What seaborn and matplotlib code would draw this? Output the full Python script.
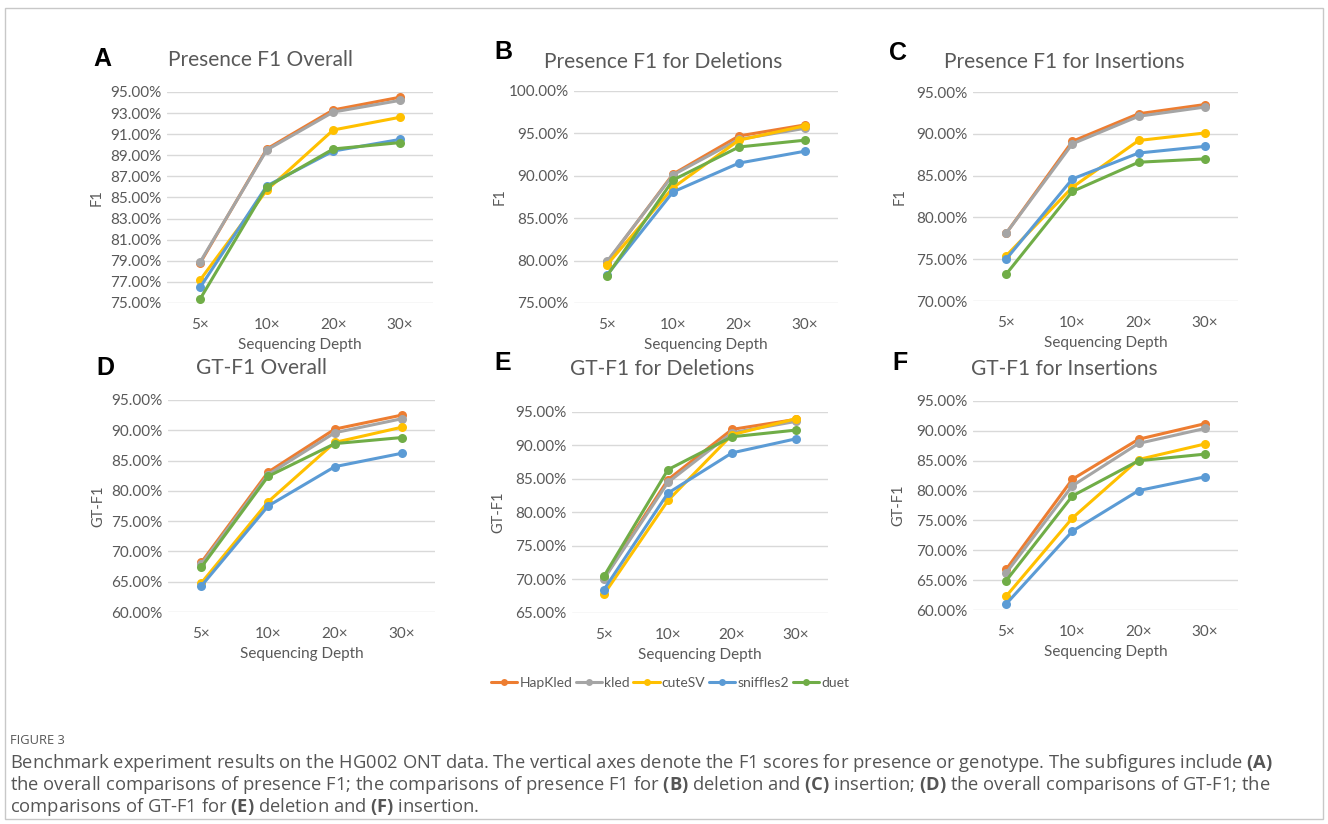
import numpy as np
import pandas as pd
import seaborn as sns
import matplotlib.pyplot as plt
from matplotlib.lines import Line2D
from matplotlib.patches import Rectangle
from matplotlib.ticker import FuncFormatter

# Excel-style benchmark figure, six small line charts + caption

depths = ['5×', '10×', '20×', '30×']
tools = ['HapKled', 'kled', 'cuteSV', 'sniffles2', 'duet']
colors = ['#ED7D31', '#A5A5A5', '#FFC000', '#5B9BD5', '#70AD47']

# A: presence F1 overall
hapkled_a = [78.8, 89.6, 93.3, 94.5]
kled_a = [78.9, 89.5, 93.1, 94.2]
cutesv_a = [77.2, 85.7, 91.4, 92.6]
sniffles2_a = [76.5, 86.1, 89.4, 90.5]
duet_a = [75.4, 86.0, 89.6, 90.2]

# B: presence F1 for deletions
hapkled_b = [79.8, 90.2, 94.7, 96.0]
kled_b = [79.9, 90.1, 94.3, 95.6]
cutesv_b = [79.5, 88.6, 94.2, 95.9]
sniffles2_b = [78.3, 88.1, 91.5, 92.9]
duet_b = [78.2, 89.5, 93.4, 94.2]

# C: presence F1 for insertions
hapkled_c = [78.1, 89.1, 92.4, 93.5]
kled_c = [78.1, 88.8, 92.1, 93.2]
cutesv_c = [75.4, 83.6, 89.2, 90.1]
sniffles2_c = [75.0, 84.6, 87.7, 88.5]
duet_c = [73.2, 83.1, 86.6, 87.0]

# D: GT-F1 overall
hapkled_d = [68.2, 83.1, 90.2, 92.5]
kled_d = [67.9, 82.7, 89.6, 91.9]
cutesv_d = [64.8, 78.2, 88.0, 90.5]
sniffles2_d = [64.3, 77.5, 84.0, 86.2]
duet_d = [67.4, 82.4, 87.8, 88.8]

# E: GT-F1 for deletions
hapkled_e = [70.2, 84.9, 92.4, 93.9]
kled_e = [70.1, 84.5, 91.9, 93.6]
cutesv_e = [67.8, 81.8, 91.6, 94.0]
sniffles2_e = [68.5, 82.9, 88.9, 91.0]
duet_e = [70.5, 86.4, 91.3, 92.3]

# F: GT-F1 for insertions
hapkled_f = [66.8, 81.9, 88.6, 91.2]
kled_f = [66.2, 80.8, 87.9, 90.4]
cutesv_f = [62.3, 75.4, 85.2, 87.8]
sniffles2_f = [61.0, 73.2, 80.0, 82.3]
duet_f = [64.9, 79.1, 85.0, 86.1]

panels = [
    ('A', 'Presence F1 Overall', 'F1', [hapkled_a, kled_a, cutesv_a, sniffles2_a, duet_a], (75, 95, 2)),
    ('B', 'Presence F1 for Deletions', 'F1', [hapkled_b, kled_b, cutesv_b, sniffles2_b, duet_b], (75, 100, 5)),
    ('C', 'Presence F1 for Insertions', 'F1', [hapkled_c, kled_c, cutesv_c, sniffles2_c, duet_c], (70, 95, 5)),
    ('D', 'GT-F1 Overall', 'GT-F1', [hapkled_d, kled_d, cutesv_d, sniffles2_d, duet_d], (60, 95, 5)),
    ('E', 'GT-F1 for Deletions', 'GT-F1', [hapkled_e, kled_e, cutesv_e, sniffles2_e, duet_e], (65, 95, 5)),
    ('F', 'GT-F1 for Insertions', 'GT-F1', [hapkled_f, kled_f, cutesv_f, sniffles2_f, duet_f], (60, 95, 5)),
]

# pixel layout: (left, right, top, bottom) of plot area, letter pos, title pos, ylabel x
boxes = [
    (167, 433, 92, 303, (102, 59), (261, 60), 97),
    (574, 838, 91, 303, (503, 52), (663, 62), 500),
    (973, 1238, 92, 301, (898, 53), (1064, 62), 900),
    (168, 435, 400, 612, (105, 368), (261, 368), 98),
    (572, 828, 412, 613, (503, 363), (662, 369), 498),
    (973, 1238, 401, 610, (900, 363), (1064, 369), 898),
]

W, H = 1328, 824
sns.set_theme(style='white')
plt.rcParams['font.family'] = ['Lato', 'DejaVu Sans']
plt.rcParams['mathtext.fontset'] = 'custom'
plt.rcParams['mathtext.rm'] = 'Open Sans'
plt.rcParams['mathtext.bf'] = 'Open Sans:bold'
txt = '#595959'

fig = plt.figure(figsize=(W / 100, H / 100), dpi=100)
fig.patch.set_facecolor('white')
fig.patches.append(Rectangle((5 / W, 1 - 819 / H), 1318 / W, 811 / H, transform=fig.transFigure,
                             fill=False, edgecolor='#C8C8C8', linewidth=1))

for (letter, title, ylab, series, (lo, hi, step)), box in zip(panels, boxes):
    l, r, t, b, lpos, tpos, ylx = box
    ax = fig.add_axes([l / W, 1 - b / H, (r - l) / W, (b - t) / H])
    df = pd.DataFrame({
        'depth': depths * len(tools),
        'tool': np.repeat(tools, len(depths)),
        'value': np.concatenate(series),
    })
    sns.lineplot(data=df, x='depth', y='value', hue='tool', hue_order=tools, palette=colors,
                 marker='o', markersize=6.5, markeredgewidth=0, linewidth=2.2,
                 sort=False, legend=False, ax=ax)
    ax.set_xlim(-0.5, 3.5)
    ax.set_ylim(lo, hi)
    ax.set_yticks(np.arange(lo, hi + step / 2, step))
    ax.yaxis.set_major_formatter(FuncFormatter(lambda v, p: f'{v:.2f}%'))
    ax.grid(axis='y', color='#D9D9D9', linewidth=1)
    ax.set_axisbelow(True)
    for s in ax.spines.values():
        s.set_visible(False)
    ax.tick_params(axis='both', length=0, labelsize=11, labelcolor=txt)
    ax.tick_params(axis='x', pad=11)
    ax.tick_params(axis='y', pad=4)
    ax.set_xlabel('Sequencing Depth', fontsize=11, color=txt, labelpad=4)
    ax.set_ylabel('')
    fig.text(ylx / W, 1 - ((t + b) / 2) / H, ylab, rotation=90, ha='center', va='center',
             fontsize=10.5, color=txt)
    fig.text(tpos[0] / W, 1 - tpos[1] / H, title, ha='center', va='center', fontsize=15, color=txt)
    fig.text(lpos[0] / W, 1 - lpos[1] / H, letter, ha='center', va='center', fontsize=18,
             fontweight='bold', color='black', family='Liberation Sans')

handles = [Line2D([], [], color=c, marker='o', markersize=5, markeredgewidth=0, linewidth=2.2)
           for c in colors]
fig.legend(handles, tools, loc='center', bbox_to_anchor=(670 / W, 1 - 683 / H), ncol=5,
           frameon=False, fontsize=10, labelcolor=txt, handlelength=1.9, handletextpad=0.15,
           columnspacing=0.25)

cap = '#555555'
fig.text(10 / W, 1 - 740 / H, 'FIGURE 3', fontsize=9.3, color=cap, va='center', family='Open Sans')
lines = [
    r'Benchmark experiment results on the HG002 ONT data. The vertical axes denote the F1 scores for presence or genotype. The subfigures include $\mathbf{(A)}$',
    r'the overall comparisons of presence F1; the comparisons of presence F1 for $\mathbf{(B)}$ deletion and $\mathbf{(C)}$ insertion; $\mathbf{(D)}$ the overall comparisons of GT-F1; the',
    r'comparisons of GT-F1 for $\mathbf{(E)}$ deletion and $\mathbf{(F)}$ insertion.',
]
for i, ln in enumerate(lines):
    fig.text(10 / W, 1 - (763 + 22 * i) / H, ln, fontsize=13.2, color=cap, va='center', family='Open Sans')

fig.savefig('out.png', dpi=100)
